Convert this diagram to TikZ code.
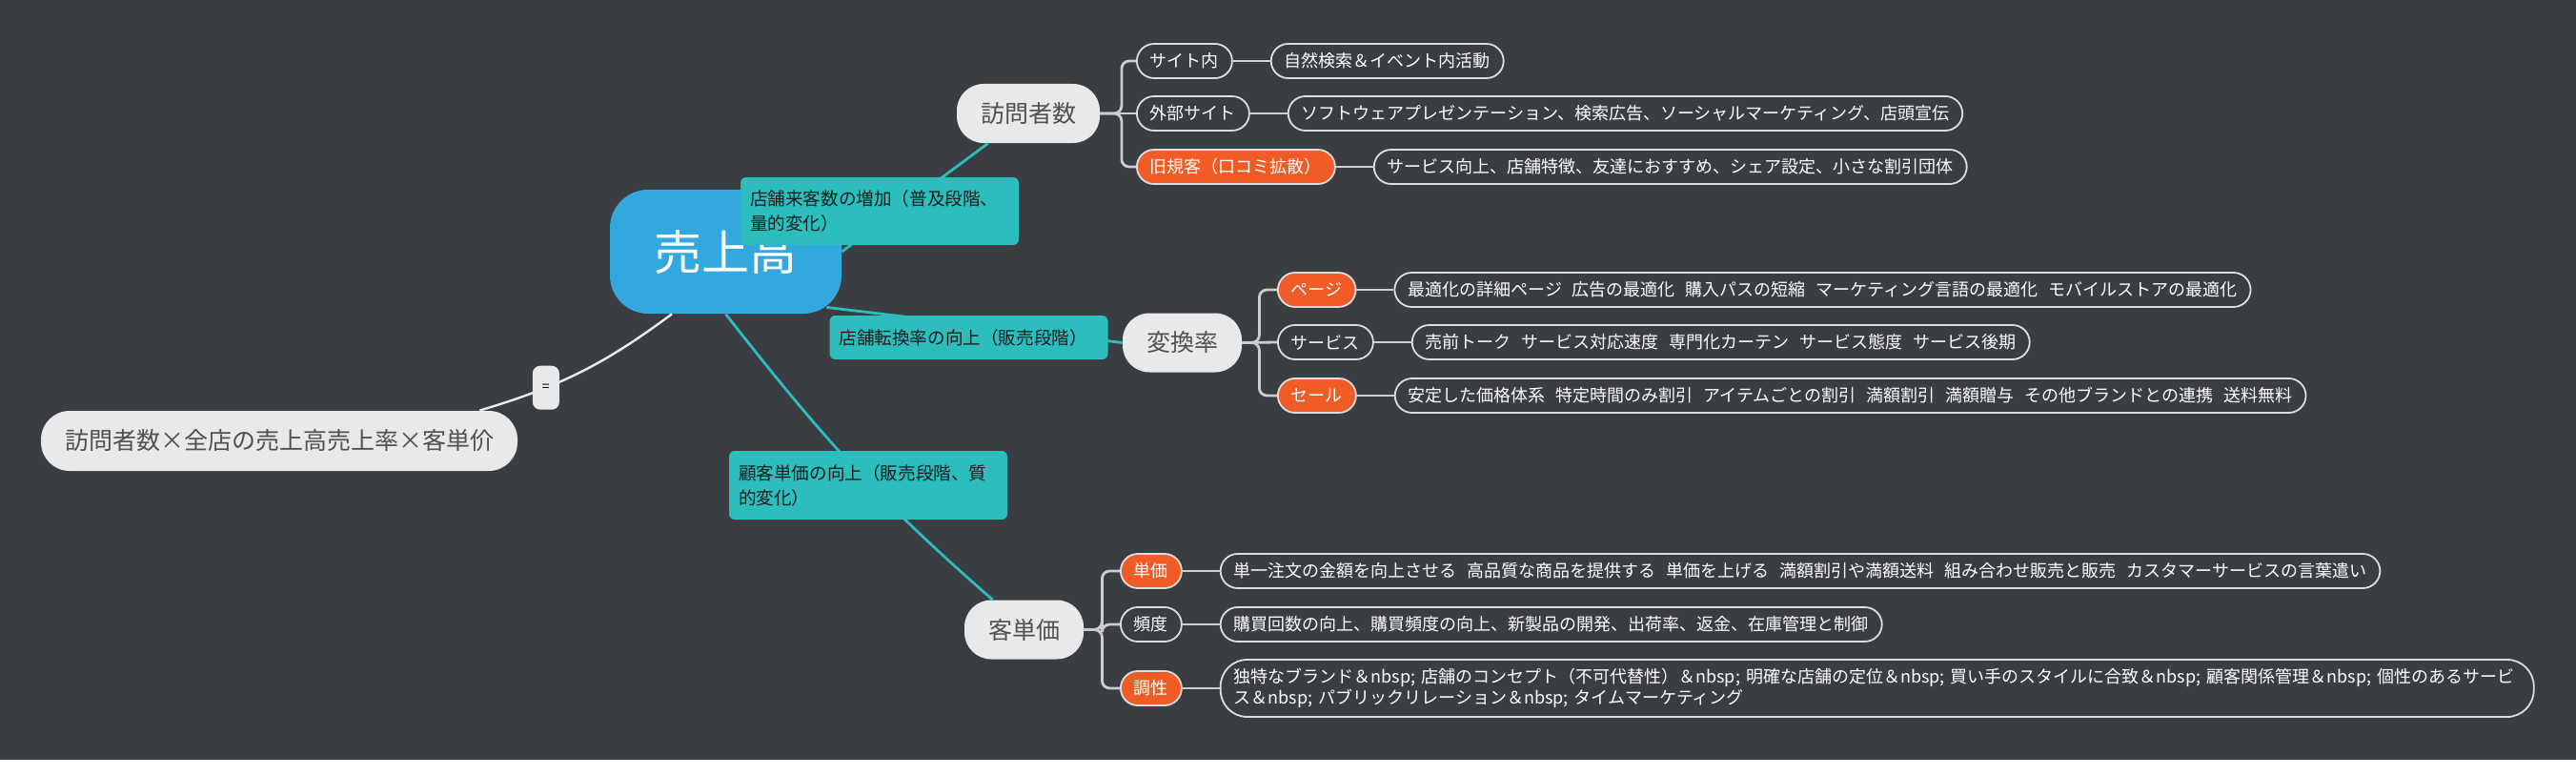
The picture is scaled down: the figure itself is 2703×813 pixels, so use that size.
\documentclass[tikz,border=0pt]{standalone}
\usepackage{fontspec}
\setmainfont{Noto Sans CJK JP}
\usepackage{tikz}
\usetikzlibrary{positioning,calc}
\definecolor{bgdark}{RGB}{58,61,66}
\definecolor{mainblue}{RGB}{50,168,223}
\definecolor{tealbox}{RGB}{46,189,189}
\definecolor{hotorange}{RGB}{241,91,37}
\definecolor{softgray}{RGB}{232,233,235}
\definecolor{topicink}{RGB}{80,80,80}
\definecolor{tagink}{RGB}{28,28,28}
\definecolor{rimgray}{RGB}{222,222,222}
\definecolor{twiggray}{RGB}{205,205,205}
\newcommand{\itemgap}{\hspace{5.5pt}}

\begin{document}
\begin{tikzpicture}[x=0.5pt,y=-0.5pt,node distance=19.5pt,
  every node/.style={font=\fontsize{9pt}{11pt}\selectfont,inner ysep=0pt},
  topic/.style={fill=softgray,text=topicink,rounded corners=14pt,minimum height=31pt,inner xsep=12.5pt,font=\fontsize{12.5pt}{15pt}\selectfont},
  pill/.style={draw=rimgray,line width=0.9pt,fill=bgdark,text=white,rounded corners=9pt,minimum height=18pt,inner xsep=7pt},
  hotpill/.style={pill,fill=hotorange},
  tag/.style={fill=tealbox,text=tagink,rounded corners=3pt,text width=136pt,align=left,inner xsep=5pt,inner ysep=3pt,font=\fontsize{9.3pt}{13pt}\selectfont},
  tealline/.style={draw=tealbox,line width=1.4pt},
  twig/.style={draw=twiggray,line width=1.4pt,rounded corners=4pt}]
\useasboundingbox (0,0) rectangle (2703,813);
\fill[white] (0,0) rectangle (2703,813);
\fill[bgdark] (0,0) rectangle (2703,797);

\node[fill=mainblue,text=white,rounded corners=20pt,minimum width=121.5pt,minimum height=65pt,font=\fontsize{25pt}{30pt}\selectfont] (sales) at (761.5,264) {売上高};
\node[topic,minimum width=247pt,minimum height=31.5pt,rounded corners=15pt] (formula) at (293,462.5) {訪問者数×全店の売上高売上率×客単价};
\node[topic] (visitors) at (1079,119) {訪問者数};
\node[topic] (convrate) at (1240.5,359.5) {変換率};
\node[topic] (custprice) at (1074.5,660.5) {客単価};

% visitors
\node[pill,anchor=west] (insite) at (1192,64) {サイト内};
\node[pill,anchor=west] (outsite) at (1192,119) {外部サイト};
\node[hotpill,anchor=west] (oldcust) at (1192,175) {旧規客（口コミ拡散）};
\node[pill,right=of insite] (insiteleaf) {自然検索＆イベント内活動};
\node[pill,right=of outsite] (outsiteleaf) {ソフトウェアプレゼンテーション、検索広告、ソーシャルマーケティング、店頭宣伝};
\node[pill,right=of oldcust] (oldcustleaf) {サービス向上、店舗特徴、友達におすすめ、シェア設定、小さな割引団体};

% conversion
\node[hotpill,anchor=west] (pagebr) at (1340,304) {ページ};
\node[pill,anchor=west] (servbr) at (1340,359) {サービス};
\node[hotpill,anchor=west] (salebr) at (1340,415) {セール};
\node[pill,right=of pagebr] (pageleaf) {最適化の詳細ページ\itemgap 広告の最適化\itemgap 購入パスの短縮\itemgap マーケティング言語の最適化\itemgap モバイルストアの最適化};
\node[pill,right=of servbr] (servleaf) {売前トーク\itemgap サービス対応速度\itemgap 専門化カーテン\itemgap サービス態度\itemgap サービス後期};
\node[pill,right=of salebr] (saleleaf) {安定した価格体系\itemgap 特定時間のみ割引\itemgap アイテムごとの割引\itemgap 満額割引\itemgap 満額贈与\itemgap その他ブランドとの連携\itemgap 送料無料};

% customer price
\node[hotpill,anchor=west] (unitbr) at (1175,599) {単価};
\node[pill,anchor=west] (freqbr) at (1175,655) {頻度};
\node[hotpill,anchor=west] (tonebr) at (1175,722) {調性};
\node[pill,right=of unitbr] (unitleaf) {単一注文の金額を向上させる\itemgap 高品質な商品を提供する\itemgap 単価を上げる\itemgap 満額割引や満額送料\itemgap 組み合わせ販売と販売\itemgap カスタマーサービスの言葉遣い};
\node[pill,right=of freqbr] (freqleaf) {購買回数の向上、購買頻度の向上、新製品の開発、出荷率、返金、在庫管理と制御};
\node[pill,right=of tonebr,text width=675pt,align=left,minimum height=30pt,rounded corners=14pt] (toneleaf) {独特なブランド＆nbsp; 店舗のコンセプト（不可代替性）＆nbsp; 明確な店舗の定位＆nbsp; 買い手のスタイルに合致＆nbsp; 顧客関係管理＆nbsp; 個性のあるサービ\\ス＆nbsp; パブリックリレーション＆nbsp; タイムマーケティング};

\draw[twig] (visitors.east) -- ++(22.5,0) |- (insite.west);
\draw[twig] (visitors.east) -- (outsite.west);
\draw[twig] (visitors.east) -- ++(22.5,0) |- (oldcust.west);
\draw[twig] (convrate.east) -- ++(18,0) |- (pagebr.west);
\draw[twig] (convrate.east) -- (servbr.west);
\draw[twig] (convrate.east) -- ++(18,0) |- (salebr.west);
\draw[twig] (custprice.east) -- ++(19,0) |- (unitbr.west);
\draw[twig] (custprice.east) -- ++(19,0) |- (freqbr.west);
\draw[twig] (custprice.east) -- ++(19,0) |- (tonebr.west);
\draw[twig] (insite) -- (insiteleaf);
\draw[twig] (outsite) -- (outsiteleaf);
\draw[twig] (oldcust) -- (oldcustleaf);
\draw[twig] (pagebr) -- (pageleaf);
\draw[twig] (servbr) -- (servleaf);
\draw[twig] (salebr) -- (saleleaf);
\draw[twig] (unitbr) -- (unitleaf);
\draw[twig] (freqbr) -- (freqleaf);
\draw[twig] (tonebr) -- (toneleaf);

\draw[tealline] (sales.east) -- (visitors);
\draw[tealline] ([xshift=-8pt,yshift=3.5pt]sales.south east) -- (convrate.west);
\draw[tealline] (sales.south) to[out=-52,in=139] ([xshift=15pt]custprice.north west);
\draw[white!93!black,line width=1.2pt] ([xshift=-28.25pt]sales.south) to[bend left=10] node[pos=0.69,fill=softgray,text=black,rounded corners=4pt,minimum width=14pt,minimum height=23pt,inner sep=0pt,font=\fontsize{7pt}{8pt}\selectfont] (eqsign) {=} ([xshift=-20pt]formula.north east);

\node[tag,minimum height=35.5pt] (visittag) at (923,221.5) {店舗来客数の増加（普及段階、\\量的変化）};
\node[tag,minimum height=23pt] (convtag) at (1016.5,354) {店舗転換率の向上（販売段階）};
\node[tag,minimum height=36pt] (custtag) at (911,509) {顧客単価の向上（販売段階、質\\的変化）};
\end{tikzpicture}
\end{document}
